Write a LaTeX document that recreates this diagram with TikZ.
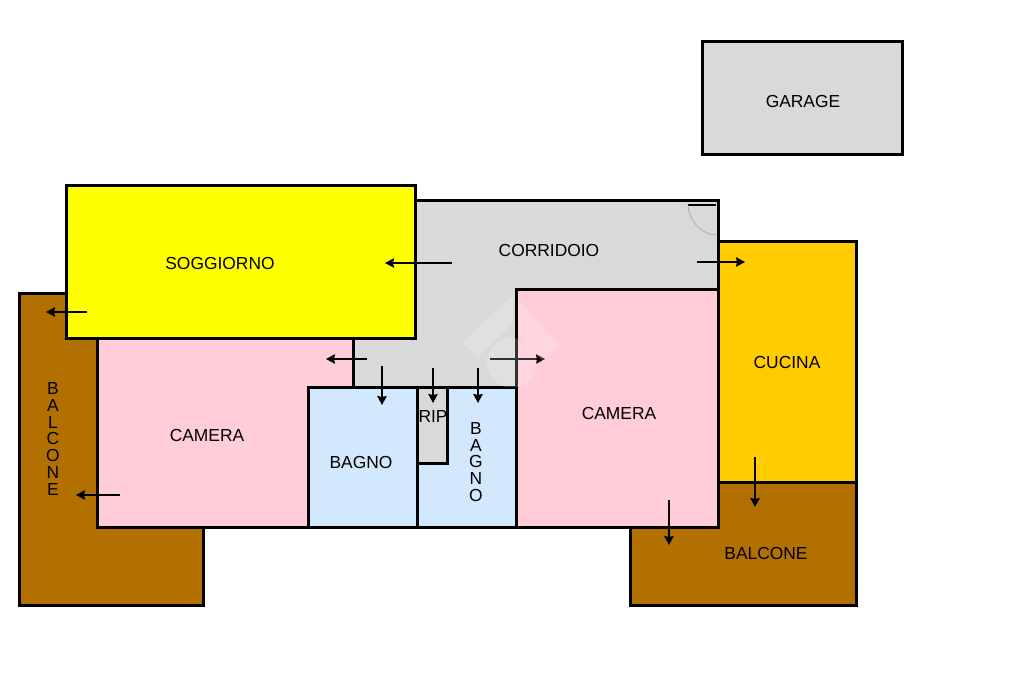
\documentclass[tikz,border=0pt]{standalone}
\usepackage{fontspec}
\setmainfont{Liberation Sans}
\usetikzlibrary{arrows.meta}
\definecolor{brownbalc}{RGB}{178,112,0}
\definecolor{pinkcam}{RGB}{255,204,216}
\definecolor{bluebagno}{RGB}{210,232,252}
\definecolor{greycorr}{RGB}{217,217,217}
\definecolor{orangecuc}{RGB}{255,204,0}
\definecolor{yellowsog}{RGB}{255,255,0}
\tikzset{room/.style = {draw = black, line width = 3pt, miter limit = 10}}
\tikzset{door/.style = {-{Stealth[length = 9pt, width = 9.5pt, inset = 1pt]}, line width = 1.5pt, black}}
\tikzset{lbl/.style = {inner sep = 0, align = center, font = \fontsize{17.4}{16.8}\selectfont}}
\tikzset{mark on plan/.style = {white, opacity = 0.2}}

\begin{document}
\begin{tikzpicture}[x = 1pt, y = -1pt]
    \useasboundingbox (0, 0) rectangle (1024, 682);

    % balconies
    \filldraw [room, fill = brownbalc] (19, 293) -- (66, 293) -- (66, 338) -- (97, 338) -- (97, 527) -- (203, 527) -- (203, 605) -- (19, 605) -- cycle;
    \filldraw [room, fill = brownbalc] (718, 482) -- (856, 482) -- (856, 605) -- (630, 605) -- (630, 527) -- (718, 527) -- cycle;

    % rooms
    \filldraw [room, fill = greycorr] (415, 200) -- (718, 200) -- (718, 289) -- (516, 289) -- (516, 387) -- (353, 387) -- (353, 338) -- (415, 338) -- cycle;
    \filldraw [room, fill = pinkcam] (97, 338) -- (353, 338) -- (353, 387) -- (308, 387) -- (308, 527) -- (97, 527) -- cycle;
    \filldraw [room, fill = pinkcam] (516, 289) rectangle (718, 527);
    \filldraw [room, fill = yellowsog] (66, 185) rectangle (415, 338);
    \filldraw [room, fill = bluebagno] (308, 387) rectangle (417, 527);
    \filldraw [room, fill = bluebagno] (417, 387) rectangle (516, 527);
    \filldraw [room, fill = greycorr] (417, 387) -- (447, 387) -- (447, 463) -- (417, 463) -- cycle;
    \filldraw [room, fill = orangecuc] (718, 241) -- (856, 241) -- (856, 482) -- (718, 482) -- cycle;
    \filldraw [room, fill = greycorr] (702, 42) rectangle (902, 154);

    % door swing
    \draw [line width = 1.2pt] (688, 205) -- (716, 205);
    \draw [gray!70, line width = 0.7pt] (688, 205) .. controls (689, 222) and (702, 235) .. (717, 235);

    % arrows
    \draw [door] (452, 263) -- (385, 263);
    \draw [door] (87, 312) -- (46, 312);
    \draw [door] (120, 495) -- (76, 495);
    \draw [door] (367, 359) -- (326, 359);
    \draw [door] (382, 366) -- (382, 405);
    \draw [door] (433, 368) -- (433, 403);
    \draw [door] (478, 368) -- (478, 403);
    \draw [door] (490, 359) -- (545, 359);
    \draw [door] (697, 262) -- (745, 262);
    \draw [door] (755, 457) -- (755, 507);
    \draw [door] (669, 500) -- (669, 545);

    % watermark
    \fill [mark on plan] (462, 343) -- (513, 295) -- (513, 323) -- (478, 357) -- cycle;
    \fill [mark on plan] (518, 300) -- (560, 345) -- (543, 362) -- (518, 333) -- cycle;
    \begin{scope}
      \clip (480, 330) rectangle (545, 386);
      \fill [mark on plan] (512, 363) circle (25);
    \end{scope}

    % labels
    \node [lbl] (garage) at (803, 102) {GARAGE};
    \node [lbl] (soggiorno) at (220, 264) {SOGGIORNO};
    \node [lbl] (corridoio) at (549, 251) {CORRIDOIO};
    \node [lbl] (cucina) at (787, 363) {CUCINA};
    \node [lbl] (cameraA) at (207, 436) {CAMERA};
    \node [lbl] (cameraB) at (619, 414) {CAMERA};
    \node [lbl] (bagnoA) at (361, 463) {BAGNO};
    \node [lbl] (rip) at (433, 417) {RIP};
    \node [lbl] (balconeA) at (766, 554) {BALCONE};
    \node [lbl] (balconeB) at (53, 439) {B\\A\\L\\C\\O\\N\\E};
    \node [lbl] (bagnoB) at (476, 462) {B\\A\\G\\N\\O};
\end{tikzpicture}
\end{document}
